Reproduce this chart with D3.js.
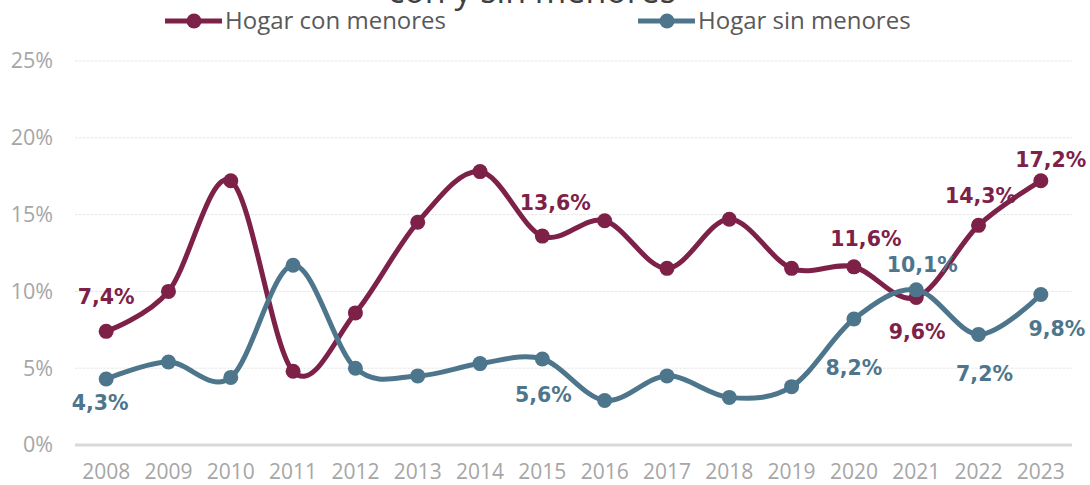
<!DOCTYPE html>
<html><head><meta charset="utf-8">
<script src="https://cdn.jsdelivr.net/npm/d3@7/dist/d3.min.js"></script>
<style>body{margin:0;background:#fff;}svg{display:block;font-family:"Open Sans","Liberation Sans",sans-serif;}</style>
</head><body><svg id="c" width="1090" height="485"></svg>
<script>
const years = ["2008","2009","2010","2011","2012","2013","2014","2015","2016","2017","2018","2019","2020","2021","2022","2023"];
const conMenores = [7.4,10.0,17.2,4.8,8.6,14.5,17.8,13.6,14.6,11.5,14.7,11.5,11.6,9.6,14.3,17.2];
const sinMenores = [4.3,5.4,4.4,11.7,5.0,4.5,5.3,5.6,2.9,4.5,3.1,3.8,8.2,10.1,7.2,9.8];
const yTicks = [0,5,10,15,20,25];
const seriesNames = ["Hogar con menores","Hogar sin menores"];
const colors = ["#7E2149","#4D768C"];
// labelled points: [seriesIndex, yearIndex, dx, dy(baseline)]
const labelsShown = [[0,0,0,-27],[1,0,-6,31],[0,7,13,-26],[1,7,1,43],[0,12,12,-21],[1,12,0,56],
  [0,13,1,41],[1,13,6,-18],[0,14,2,-22],[1,14,6,47],[0,15,10,-14],[1,15,16,42]];

const svg = d3.select("#c");
const x = d3.scaleBand().domain(years).range([75,1072]);
const y = d3.scaleLinear().domain([0,25]).range([445,61]);
const fmt = v => v.toFixed(1).replace(".",",")+"%";

// title (cropped at the top edge, as in the reference)
svg.append("text").attr("x",532).attr("y",3).attr("text-anchor","middle")
  .attr("font-size",34).attr("fill","#404040").text("con y sin menores");

// grid
svg.append("g").selectAll("line").data(yTicks.filter(d=>d>0)).join("line")
  .attr("x1",75).attr("x2",1072).attr("y1",d=>y(d)).attr("y2",d=>y(d))
  .attr("stroke","#e8e8e8").attr("stroke-width",1).attr("stroke-dasharray","3,1");
svg.append("line").attr("x1",75).attr("x2",1072).attr("y1",y(0)).attr("y2",y(0))
  .attr("stroke","#d9d9d9").attr("stroke-width",3);

// axes
const yAxis = d3.axisLeft(y).tickValues(yTicks).tickFormat(d=>d+"%").tickSize(0).tickPadding(0);
const gy = svg.append("g").attr("transform","translate(53,0)").call(yAxis);
gy.select(".domain").remove();
gy.selectAll("text").attr("font-size",21.5).attr("fill","#a6a6a6").attr("font-family","'Open Sans',sans-serif");
const xAxis = d3.axisBottom(x).tickSize(0).tickPadding(0);
const gx = svg.append("g").call(xAxis);
gx.select(".domain").remove();
gx.selectAll("text").attr("y",479).attr("dy",null).attr("font-size",21).attr("fill","#a6a6a6").attr("font-family","'Open Sans',sans-serif");

// lines
const cx = i => x(years[i]) + x.bandwidth()/2;
const line = d3.line().x((d,i)=>cx(i)).y(d=>y(d)).curve(d3.curveCardinal.tension(0));
[conMenores,sinMenores].forEach((s,k)=>{
  svg.append("path").datum(s).attr("d",line).attr("fill","none")
    .attr("stroke",colors[k]).attr("stroke-width",5).attr("stroke-linecap","round");
  svg.append("g").selectAll("circle").data(s).join("circle")
    .attr("cx",(d,i)=>cx(i)).attr("cy",d=>y(d)).attr("r",7.5).attr("fill",colors[k]);
});

// labels
const data = [conMenores,sinMenores];
svg.append("g").selectAll("text").data(labelsShown).join("text")
  .attr("x",d=>cx(d[1])+d[2]).attr("y",d=>y(data[d[0]][d[1]])+d[3])
  .attr("text-anchor","middle").attr("font-size",20.5).attr("font-weight","bold")
  .attr("font-family","'DejaVu Sans',sans-serif")
  .attr("fill",d=>colors[d[0]]).text(d=>fmt(data[d[0]][d[1]]));

// legend
const legX = [165,638];
seriesNames.forEach((n,k)=>{
  const g = svg.append("g").attr("transform",`translate(${legX[k]},21)`);
  g.append("line").attr("x1",0).attr("x2",57).attr("stroke",colors[k]).attr("stroke-width",5);
  g.append("circle").attr("cx",29).attr("r",7.5).attr("fill",colors[k]);
  g.append("text").attr("x",60).attr("y",8).attr("font-size",24).attr("fill","#595959").text(n);
});
</script></body></html>
